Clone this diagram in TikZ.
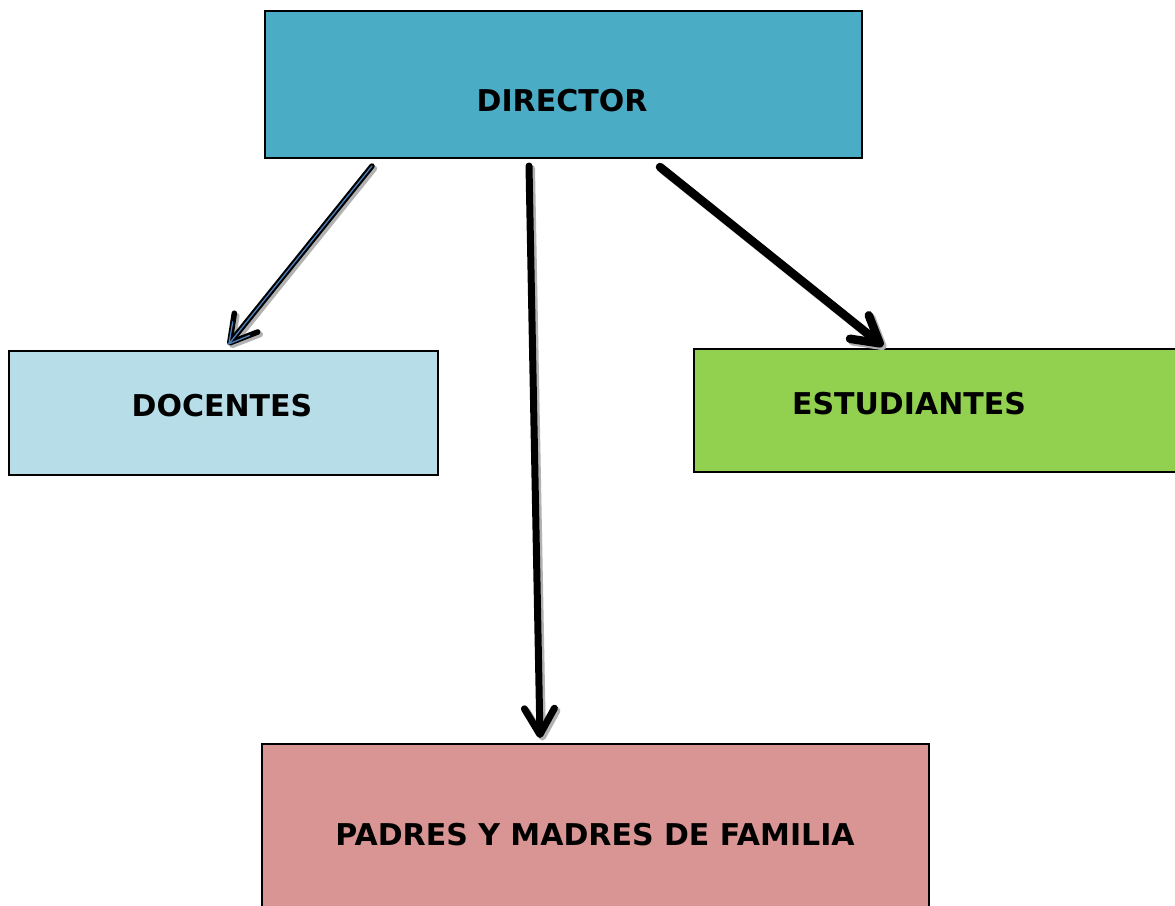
\documentclass[tikz,border=0pt]{standalone}
\usepackage{fontspec}
\setmainfont{DejaVu Sans}
\usetikzlibrary{arrows.meta}

\definecolor{dircol}{HTML}{4BACC6}
\definecolor{doccol}{HTML}{B7DEE8}
\definecolor{estcol}{HTML}{92D050}
\definecolor{padcol}{HTML}{D99594}
\definecolor{inblue}{HTML}{4F81BD}

\tikzset{
  box/.style={draw, line width=2.8pt, rectangle, inner sep=0pt},
  lbl/.style={font=\fontsize{30}{34}\selectfont\bfseries},
  arr/.style={line width=#1, line cap=round, line join=round,
    -{Straight Barb[length=26pt,width=30pt,line cap=round,line join=round]}},
  shadowline/.style={draw=black!30, line width=#1, line cap=round, line join=round,
    -{Straight Barb[length=26pt,width=30pt,line cap=round,line join=round]}},
}

\begin{document}
\begin{tikzpicture}[x=1pt,y=-1pt]
\clip (0,0) rectangle (1175,905);
\fill[white] (0,0) rectangle (1175,905);

\node[box, fill=dircol, minimum width=597, minimum height=147] (dir) at (563.5,84.5) {};
\node[box, fill=doccol, minimum width=429, minimum height=124] (doc) at (223.5,413) {};
\node[box, fill=estcol, minimum width=486, minimum height=123] (est) at (937,410.5) {};
\node[box, fill=padcol, minimum width=667, minimum height=172] (pad) at (595.5,830) {};

\node[lbl] (dirtxt) at (562,101) {DIRECTOR};
\node[lbl] (doctxt) at (222,406) {DOCENTES};
\node[lbl] (esttxt) at (909,404) {ESTUDIANTES};
\node[lbl] (padtxt) at (595,835) {PADRES Y MADRES DE FAMILIA};

% arrow ends
\coordinate (d1) at (372,166);
\coordinate (d2) at (228,345);
\coordinate (p1) at (529,166);
\coordinate (p2) at (540,738);
\coordinate (e1) at (660,167);
\coordinate (e2) at (883,346);

% shadows
\path[shadowline=5.5pt] ([shift={(2.5,2.5)}]d1) -- ([shift={(2.5,2.5)}]d2);
\path[shadowline=7pt] ([shift={(2.5,2.5)}]p1) -- ([shift={(2.5,2.5)}]p2);
\path[shadowline=8.5pt] ([shift={(2.5,2.5)}]e1) -- ([shift={(2.5,2.5)}]e2);

\path[draw, arr=5.5pt] (d1) -- (d2);
\path[draw, color=inblue, line width=1.3pt, line cap=round,
  -{Straight Barb[length=20pt,width=22pt]}] (d1) -- (d2);
\path[draw, arr=7pt] (p1) -- (p2);
\path[draw, arr=8.5pt] (e1) -- (e2);
\end{tikzpicture}
\end{document}
